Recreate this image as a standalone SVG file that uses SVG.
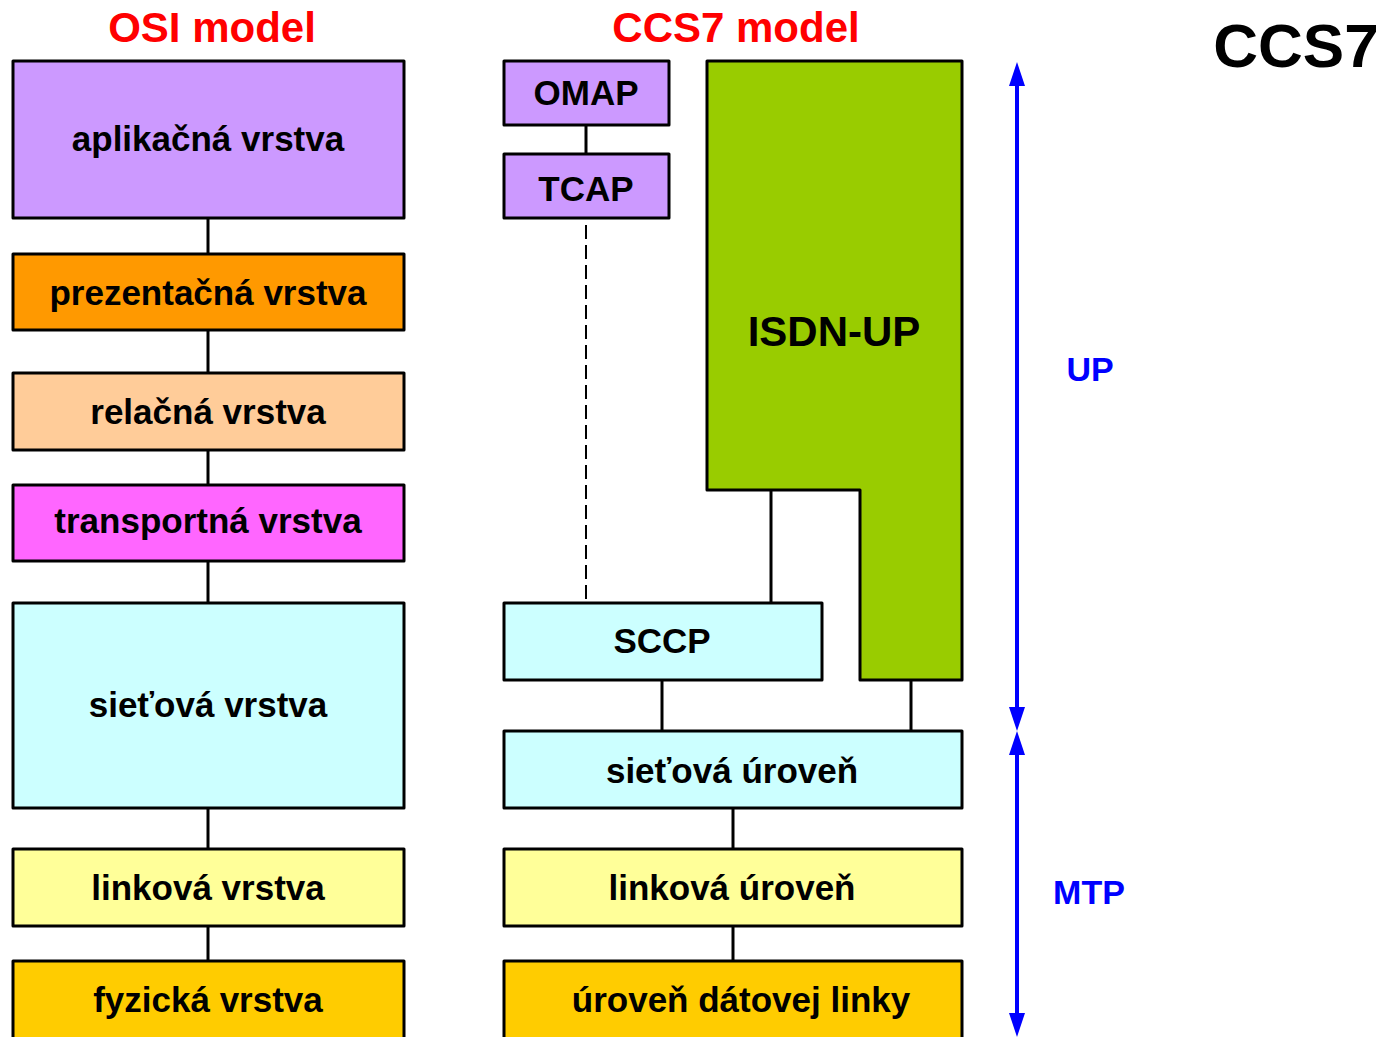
<svg xmlns="http://www.w3.org/2000/svg" width="1393" height="1037" viewBox="0 0 1393 1037">
<defs>
<style>
.box{stroke:#000;stroke-width:3;stroke-linejoin:round}
.lbl{font-family:"Liberation Sans",Arial,sans-serif;font-weight:bold;font-size:35px;fill:#000;text-anchor:middle}
.title{font-family:"Liberation Sans",Arial,sans-serif;font-weight:bold;font-size:42px;fill:#FF0000;text-anchor:middle}
.blue{font-family:"Liberation Sans",Arial,sans-serif;font-weight:bold;font-size:34px;fill:#0000FF;text-anchor:middle}
.conn{stroke:#000;stroke-width:3;fill:none}
.dash{stroke:#000;stroke-width:2;fill:none;stroke-dasharray:14 6}
.arr{stroke:#0000FF;stroke-width:4;fill:none;marker-start:url(#ah);marker-end:url(#ah)}
</style>
<marker id="ah" markerUnits="userSpaceOnUse" markerWidth="24" markerHeight="16" refX="0" refY="8" orient="auto-start-reverse" viewBox="0 0 24 16">
<path d="M0,0 L24,8 L0,16 z" fill="#0000FF"/>
</marker>
</defs>
<rect width="1393" height="1037" fill="#fff"/>

<text class="title" x="212" y="42">OSI model</text>
<text class="title" x="736" y="42">CCS7 model</text>
<text x="1296" y="67" style="font-family:'Liberation Sans',Arial,sans-serif;font-weight:bold;font-size:62px;text-anchor:middle">CCS7</text>

<g id="connectors">
<line class="conn" x1="208" y1="218" x2="208" y2="254"/>
<line class="conn" x1="208" y1="330" x2="208" y2="373"/>
<line class="conn" x1="208" y1="450" x2="208" y2="485"/>
<line class="conn" x1="208" y1="561" x2="208" y2="603"/>
<line class="conn" x1="208" y1="808" x2="208" y2="849"/>
<line class="conn" x1="208" y1="926" x2="208" y2="961"/>
<line class="conn" x1="586" y1="125" x2="586" y2="154"/>
<line class="dash" x1="586" y1="225" x2="586" y2="600"/>
<line class="conn" x1="771" y1="490" x2="771" y2="603"/>
<line class="conn" x1="662" y1="680" x2="662" y2="731"/>
<line class="conn" x1="911" y1="680" x2="911" y2="731"/>
<line class="conn" x1="733" y1="808" x2="733" y2="849"/>
<line class="conn" x1="733" y1="926" x2="733" y2="961"/>
<line class="arr" x1="1017" y1="86" x2="1017" y2="707"/>
<line class="arr" x1="1017" y1="755" x2="1017" y2="1013"/>
</g>

<g id="osi-app"><rect class="box" x="13" y="61" width="391" height="157" fill="#CC99FF"/><text class="lbl" x="208" y="151">aplikačná vrstva</text></g>
<g id="osi-pres"><rect class="box" x="13" y="254" width="391" height="76" fill="#FF9900"/><text class="lbl" x="208" y="305">prezentačná vrstva</text></g>
<g id="osi-sess"><rect class="box" x="13" y="373" width="391" height="77" fill="#FFCC99"/><text class="lbl" x="208" y="424">relačná vrstva</text></g>
<g id="osi-trans"><rect class="box" x="13" y="485" width="391" height="76" fill="#FF66FF"/><text class="lbl" x="208" y="533">transportná vrstva</text></g>
<g id="osi-net"><rect class="box" x="13" y="603" width="391" height="205" fill="#CCFFFF"/><text class="lbl" x="208" y="717">sieťová vrstva</text></g>
<g id="osi-link"><rect class="box" x="13" y="849" width="391" height="77" fill="#FFFF99"/><text class="lbl" x="208" y="900">linková vrstva</text></g>
<g id="osi-phys"><rect class="box" x="13" y="961" width="391" height="90" fill="#FFCC00"/><text class="lbl" x="208" y="1012">fyzická vrstva</text></g>

<g id="omap"><rect class="box" x="504" y="61" width="165" height="64" fill="#CC99FF"/><text class="lbl" x="586" y="105">OMAP</text></g>
<g id="tcap"><rect class="box" x="504" y="154" width="165" height="64" fill="#CC99FF"/><text class="lbl" x="586" y="201">TCAP</text></g>
<g id="isdn-up"><path class="box" d="M707,61 L962,61 L962,680 L860,680 L860,490 L707,490 Z" fill="#99CC00"/><text class="lbl" x="834" y="346" style="font-size:42px">ISDN-UP</text></g>
<g id="sccp"><rect class="box" x="504" y="603" width="318" height="77" fill="#CCFFFF"/><text class="lbl" x="662" y="653">SCCP</text></g>
<g id="ccs-net"><rect class="box" x="504" y="731" width="458" height="77" fill="#CCFFFF"/><text class="lbl" x="732" y="783">sieťová úroveň</text></g>
<g id="ccs-link"><rect class="box" x="504" y="849" width="458" height="77" fill="#FFFF99"/><text class="lbl" x="732" y="900">linková úroveň</text></g>
<g id="ccs-data"><rect class="box" x="504" y="961" width="458" height="90" fill="#FFCC00"/><text class="lbl" x="741" y="1012">úroveň dátovej linky</text></g>

<g id="label-up"><text class="blue" x="1090" y="381">UP</text></g>
<g id="label-mtp"><text class="blue" x="1089" y="904">MTP</text></g>
</svg>
